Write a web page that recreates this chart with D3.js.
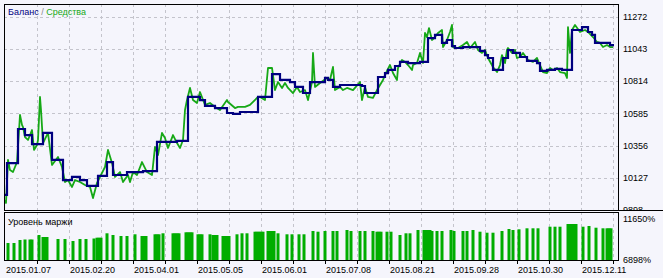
<!DOCTYPE html>
<html>
<head>
<meta charset="utf-8">
<script src="https://cdn.jsdelivr.net/npm/d3@7"></script>
<style>
  body { margin: 0; background: #f5f5fc; }
  text { font-family: "Liberation Sans", Arial, sans-serif; font-size: 9px; fill: #000; }
</style>
</head>
<body>
<svg id="chart" width="663" height="278"></svg>
<script>
// balance: step where each level starts, and its value
const balIdx = [0,2,13,20,27,38,47,58,67,75, 82,93,102,108,122,138,152,172,183,195,
  200,210,222,228,235,253,267,275,285,290, 298,305,320,323,328,335,357,360,373,380,
  383,390,395,403,415,423,430,437,442,447, 450,458,475,480,483,488,498,503,508,515,
  522,532,535,542,550,557,567,577,583,587, 590,605,609];
const balVal = [10005,10232,10474,10431,10367,10446,10254,10111,10133,10111,
  10069,10140,10239,10147,10168,10175,10382,10389,10702,10680,
  10638,10623,10588,10581,10595,10702,10865,10823,10808,10773,
  10730,10808,10837,10823,10773,10787,10780,10730,10844,10872,
  10894,10922,10951,10943,10951,11121,11143,11086,11107,11064,
  11050,11057,11029,11000,10979,10894,10979,11036,11015,10986,
  10958,10943,10887,10894,10901,10894,11178,11199,11164,11143,
  11086,11071,11071];

// equity
const eqIdx = [0,1,3,5,8,10,12,15,17,18,20,23,27,29,32,33,35,36,38,43,47,53,57,60,63,67,70,75,80,85,
  88,92,95,100,103,107,110,115,118,123,125,128,132,137,142,147,150,153,157,160,163,168,172,175,178,180,
  182,185,188,192,195,200,205,210,215,222,223,230,233,240,245,252,255,260,263,267,270,273,277,280,283,
  288,292,295,300,303,307,308,310,315,322,325,328,330,335,338,342,348,355,357,360,363,368,372,375,378,
  380,385,388,392,393,397,400,403,407,408,412,415,418,420,422,424,427,430,433,437,438,442,445,447,448,
  453,458,462,465,470,473,477,480,483,488,492,495,497,500,502,503,507,510,512,515,518,523,528,532,535,
  538,542,545,548,552,555,560,562,563,565,567,570,575,580,583,588,592,595,598,602,605,608];
const eqVal = [9969,9948,10254,10182,10168,10204,10239,10574,10503,10488,10417,10396,10467,10325,10360,
  10396,10702,10609,10374,10446,10218,10275,10204,10097,10111,10062,10111,10097,10076,10062,
  9983,10090,10133,10204,10325,10232,10133,10168,10097,10147,10097,10168,10147,10239,10168,
  10147,10346,10289,10446,10410,10339,10431,10374,10339,10396,10609,10680,10766,10680,10659,
  10737,10645,10659,10631,10609,10680,10666,10623,10631,10631,10645,10695,10702,10680,10908,
  10908,10751,10808,10766,10801,10766,10730,10773,10737,10751,10680,10808,11015,10773,10801,
  10837,10823,10915,10751,10773,10751,10766,10751,10808,10680,10773,10702,10695,10751,10787,
  10823,10858,10929,10872,10823,10908,10965,10951,10929,10894,10929,10943,11015,10943,11157,
  11128,11192,11107,11128,11157,11178,11057,11107,11164,11214,11057,11050,11071,11093,11050,
  11093,11036,11015,11036,10979,10915,10879,10929,11000,10943,11036,11050,11015,11036,10979,
  10986,11015,10965,10951,10979,10929,10879,10872,10908,10894,10908,10879,10872,10837,11199,
  11015,11178,11214,11164,11178,11164,11128,11093,11086,11057,11071,11057,11057];

// margin level, %
const mgIdx = [3,9,15,20,25,27,34,38,40,42,53,60,68,75,81,89,92,94,96,102,108,116,122,130,137,139,141,
  150,152,154,158,168,170,172,174,181,183,185,187,193,195,197,205,208,210,212,218,220,222,224,232,237,242,
  250,252,254,256,258,263,265,267,269,273,282,287,294,299,308,313,320,328,332,342,346,355,360,368,372,374,
  376,382,386,395,401,405,413,419,421,423,425,427,432,437,446,449,458,462,468,475,482,488,497,504,508,514,
  522,528,533,545,550,555,563,565,567,569,571,578,584,591,598,602,604,606];
const mgVal = [8868,8868,9216,9274,9274,9274,9796,9564,9564,9564,9332,9332,9100,9332,9332,9390,9483,9483,9483,
  9993,9796,9680,9680,9877,9680,9680,9680,9877,9877,9877,9993,9993,9993,9993,9993,10108,10108,10108,10108,
  9877,9877,9877,9877,9796,9796,9796,9680,9680,9680,9680,9877,9993,9993,10178,10178,10178,10178,10178,
  10259,10259,10259,10259,9993,9877,9877,9877,9877,10259,10178,10259,10259,10259,10375,10259,10259,10259,
  10259,10178,10178,10178,10178,10178,9796,9993,9993,10375,10375,10375,10375,10375,10259,10259,10259,10375,
  10259,10259,10259,10375,10178,10062,10062,10259,10491,10375,10456,10572,10572,10572,10757,10757,10757,
  11070,11070,11070,11070,11070,10757,10839,10641,10572,10572,10572,10572];

const yTicks = [9898, 10127, 10356, 10585, 10814, 11043, 11272];
const mgTicks = [6898, 11650];
const dateLabels = ['2015.01.07','2015.02.20','2015.04.01','2015.05.05','2015.06.01',
  '2015.07.08','2015.08.21','2015.09.28','2015.10.30','2015.12.11'];
const dateIdx = [0, 64, 128, 192, 256, 320, 384, 448, 512, 576];

const svg = d3.select('#chart');
const main = {left: 4, right: 618, top: 4, bottom: 210};
const sub = {top: 212, bottom: 260};

const x = d3.scaleLinear().domain([0, 609]).range([5, 614]);
const y = d3.scaleLinear().domain([9898, 11363]).range([main.bottom, main.top]);
const ym = d3.scaleLinear().domain([6898, 11650]).range([sub.bottom, 219]);

svg.append('clipPath').attr('id', 'clipMain').append('rect')
  .attr('x', main.left).attr('y', main.top)
  .attr('width', main.right - main.left).attr('height', main.bottom - main.top);

// y labels of main panel
svg.append('g').selectAll('text').data(yTicks).enter().append('text')
  .attr('x', 623).attr('y', d => y(d)).attr('dy', '0.35em').text(d => d);

// margin panel background hides part of the lowest label
svg.append('rect').attr('x', 0).attr('y', 211).attr('width', 663).attr('height', 67)
  .attr('fill', '#f5f5fc');

// grid
const gridX = d3.range(32, 609, 32);
const grid = svg.append('g').attr('stroke', '#c4c4cc').attr('stroke-dasharray', '3,3')
  .attr('shape-rendering', 'crispEdges');
grid.selectAll('.gx').data(gridX).enter().append('line')
  .attr('x1', d => Math.round(x(d)) + 0.5).attr('x2', d => Math.round(x(d)) + 0.5)
  .attr('y1', main.top).attr('y2', main.bottom);
grid.selectAll('.gxm').data(gridX).enter().append('line')
  .attr('x1', d => Math.round(x(d)) + 0.5).attr('x2', d => Math.round(x(d)) + 0.5)
  .attr('y1', sub.top).attr('y2', sub.bottom);
grid.selectAll('.gy').data(yTicks.slice(1)).enter().append('line')
  .attr('x1', main.left).attr('x2', main.right)
  .attr('y1', d => Math.round(y(d)) + 0.5).attr('y2', d => Math.round(y(d)) + 0.5);

// equity & balance
const eq = d3.zip(eqIdx, eqVal);
const bal = d3.zip(balIdx, balVal);
const plot = svg.append('g').attr('clip-path', 'url(#clipMain)');
plot.append('path').datum(eq)
  .attr('fill', 'none').attr('stroke', '#16a816').attr('stroke-width', 1.8)
  .attr('stroke-linejoin', 'round')
  .attr('d', d3.line().x(d => x(d[0])).y(d => y(d[1])));
plot.append('path').datum(bal)
  .attr('fill', 'none').attr('stroke', '#00007f').attr('stroke-width', 2.2)
  .attr('d', d3.line().curve(d3.curveStepAfter).x(d => x(d[0])).y(d => y(d[1])));

// margin bars
svg.append('g').selectAll('rect').data(d3.zip(mgIdx, mgVal)).enter().append('rect')
  .attr('x', d => x(d[0]) - 1.5).attr('width', 3)
  .attr('y', d => ym(d[1])).attr('height', d => sub.bottom - ym(d[1]))
  .attr('fill', '#00ad00');

// frames
const frame = svg.append('g').attr('fill', 'none').attr('stroke', '#000')
  .attr('shape-rendering', 'crispEdges');
frame.append('rect').attr('x', main.left + 0.5).attr('y', main.top + 0.5)
  .attr('width', main.right - main.left).attr('height', main.bottom - main.top);
frame.append('line').attr('x1', main.right).attr('x2', 663)
  .attr('y1', main.bottom + 0.5).attr('y2', main.bottom + 0.5);
frame.append('rect').attr('x', main.left + 0.5).attr('y', sub.top + 0.5)
  .attr('width', main.right - main.left).attr('height', sub.bottom - sub.top);

// bottom axis
const axis = svg.append('g');
axis.selectAll('line').data(gridX).enter().append('line')
  .attr('x1', d => Math.round(x(d)) + 0.5).attr('x2', d => Math.round(x(d)) + 0.5)
  .attr('y1', sub.bottom).attr('y2', sub.bottom + 4).attr('stroke', '#000');
axis.selectAll('text').data(dateLabels).enter().append('text')
  .attr('x', (d, i) => x(dateIdx[i]) + 1).attr('y', 270).attr('dy', '0.35em').text(d => d);

// margin labels
svg.append('g').selectAll('text').data(mgTicks).enter().append('text')
  .attr('x', 623).attr('y', d => ym(d)).attr('dy', '0.35em').text(d => d + '%');
svg.append('text').attr('x', 8).attr('y', 222).attr('dy', '0.35em').text('Уровень маржи');

// legend
const lg = svg.append('text').attr('x', 8).attr('y', 12).attr('dy', '0.35em');
lg.append('tspan').style('fill', '#00007f').text('Баланс');
lg.append('tspan').style('fill', '#888').text(' / ');
lg.append('tspan').style('fill', '#16a816').text('Средства');
</script>
</body>
</html>
